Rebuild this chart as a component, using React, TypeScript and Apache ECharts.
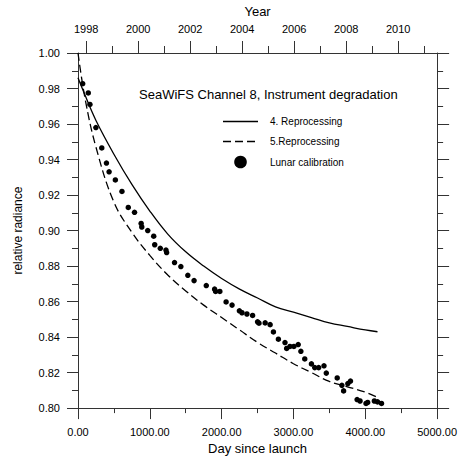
import React, { useEffect, useRef } from "react";
import * as echarts from "echarts";

// Model curves (day since launch -> relative radiance)
const CURVE_DAYS = [0, 100, 250, 500, 750, 1000, 1250, 1500, 1750, 2000, 2250, 2500, 2750, 3000, 3250, 3500, 3750, 4000, 4170];
const REPRO4 = [0.986, 0.976, 0.962, 0.943, 0.926, 0.911, 0.898, 0.888, 0.88, 0.873, 0.867, 0.862, 0.857, 0.854, 0.851, 0.848, 0.846, 0.844, 0.843];
const REPRO5 = [1.0, 0.974, 0.947, 0.916, 0.899, 0.886, 0.875, 0.866, 0.858, 0.851, 0.844, 0.837, 0.831, 0.825, 0.82, 0.815, 0.812, 0.809, 0.806];

// Lunar calibration measurements
const LUNAR_DAYS = [
  65, 143, 166, 249, 331, 396, 433, 520, 612, 700, 787, 879, 888, 971, 1054, 1068, 1146, 1225, 1234, 1344,
  1432, 1529, 1616, 1786, 1902, 1916, 1975, 2062, 2145, 2247, 2283, 2352, 2431, 2500, 2520, 2606, 2675, 2721,
  2790, 2882, 2905, 2951, 3006, 3066, 3103, 3157, 3250, 3296, 3351, 3425, 3457, 3609, 3674, 3698, 3757, 3794,
  3886, 3927, 4010, 4033, 4126, 4171, 4226,
];
const LUNAR_VALUES = [
  0.9827, 0.9775, 0.971, 0.958, 0.9465, 0.938, 0.9331, 0.9285, 0.922, 0.913, 0.9103, 0.904, 0.902, 0.9, 0.8968,
  0.892, 0.89, 0.889, 0.8876, 0.882, 0.8797, 0.8748, 0.8718, 0.869, 0.867, 0.8657, 0.8657, 0.8598, 0.858, 0.8548,
  0.8537, 0.853, 0.8522, 0.8486, 0.8478, 0.848, 0.847, 0.8429, 0.8388, 0.8369, 0.8336, 0.8347, 0.8347, 0.8358,
  0.832, 0.8277, 0.8249, 0.8228, 0.8228, 0.8238, 0.8197, 0.817, 0.8128, 0.8097, 0.8138, 0.8152, 0.8048, 0.804,
  0.8026, 0.8032, 0.804, 0.8035, 0.8026,
];

// Top (calendar year) axis
const YEAR_START = 1997.683;
const YEAR_END = 2011.5;
const YEAR_MAJOR = [1998, 2000, 2002, 2004, 2006, 2008, 2010];
const YEAR_MINOR = [1999, 2001, 2003, 2005, 2007, 2009, 2011];

const TITLE = "SeaWiFS Channel 8, Instrument degradation";
const NAME_4 = "4. Reprocessing";
const NAME_5 = "5.Reprocessing";
const NAME_L = "Lunar calibration";

export default function App() {
  const ref = useRef<HTMLDivElement>(null);

  useEffect(() => {
    if (!ref.current) return;
    const chart = echarts.init(ref.current, null, { renderer: "svg" });
    const font = "'Liberation Sans', Arial, Helvetica, sans-serif";
    const axisColor = "#333";
    const lineStyle = { color: axisColor, width: 1 };
    const dash = [8, 4];

    const legendX1 = 223;
    const legendX2 = 258;
    const legendTextX = 270;
    const legendRows = [121.5, 141.5, 162];
    const legendText = (text: string, y: number) => ({
      type: "text",
      x: legendTextX,
      y,
      silent: true,
      style: { text, fill: "#000", font: `10px ${font}`, verticalAlign: "middle", align: "left" },
    });

    const option: any = {
      animation: false,
      backgroundColor: "#fff",
      textStyle: { fontFamily: font, color: "#000" },
      title: {
        text: TITLE,
        left: 139,
        top: 86,
        padding: 0,
        textStyle: { fontFamily: font, fontSize: 13, fontWeight: "normal", color: "#000", lineHeight: 16 },
      },
      graphic: [
        {
          type: "line",
          silent: true,
          shape: { x1: legendX1, y1: legendRows[0], x2: legendX2, y2: legendRows[0] },
          style: { stroke: "#000", lineWidth: 1.3 },
        },
        legendText(NAME_4, legendRows[0]),
        {
          type: "line",
          silent: true,
          shape: { x1: legendX1, y1: legendRows[1], x2: legendX2, y2: legendRows[1] },
          style: { stroke: "#000", lineWidth: 1.3, lineDash: dash },
        },
        legendText(NAME_5, legendRows[1]),
        {
          type: "circle",
          silent: true,
          shape: { cx: (legendX1 + legendX2) / 2, cy: legendRows[2], r: 6.3 },
          style: { fill: "#000" },
        },
        legendText(NAME_L, legendRows[2]),
      ],
      grid: { left: 78, right: 21, top: 53, bottom: 46, containLabel: false },
      xAxis: [
        {
          type: "value",
          position: "bottom",
          min: 0,
          max: 5000,
          interval: 1000,
          name: "Day since launch",
          nameLocation: "middle",
          nameGap: 31,
          nameTextStyle: { fontFamily: font, fontSize: 13, color: "#000" },
          axisLine: { show: true, onZero: false, lineStyle },
          axisTick: { show: true, inside: false, length: 11, lineStyle },
          minorTick: { show: true, splitNumber: 2, length: 5, lineStyle },
          axisLabel: {
            margin: 18,
            fontFamily: font,
            fontSize: 11,
            color: "#000",
            formatter: (v: number) => v.toFixed(2),
          },
          splitLine: { show: false },
        },
        {
          type: "value",
          position: "top",
          min: YEAR_START,
          max: YEAR_END,
          name: "Year",
          nameLocation: "middle",
          nameGap: 32,
          nameTextStyle: { fontFamily: font, fontSize: 13, color: "#000" },
          axisLine: { show: true, onZero: false, lineStyle },
          axisTick: { show: true, inside: false, length: 12, customValues: YEAR_MAJOR, lineStyle },
          axisLabel: {
            margin: 19,
            fontFamily: font,
            fontSize: 11,
            color: "#000",
            customValues: YEAR_MAJOR,
            formatter: (v: number) => String(Math.round(v)),
          },
          splitLine: { show: false },
        },
        {
          type: "value",
          position: "top",
          min: YEAR_START,
          max: YEAR_END,
          axisLine: { show: false },
          axisTick: { show: true, inside: false, length: 7, customValues: YEAR_MINOR, lineStyle },
          axisLabel: { show: false },
          splitLine: { show: false },
        },
      ],
      yAxis: [
        {
          type: "value",
          position: "left",
          min: 0.8,
          max: 1.0,
          interval: 0.02,
          name: "relative radiance",
          nameLocation: "middle",
          nameGap: 54,
          nameTextStyle: { fontFamily: font, fontSize: 12, color: "#000" },
          axisLine: { show: true, onZero: false, lineStyle },
          axisTick: { show: true, inside: false, length: 11, lineStyle },
          minorTick: { show: true, splitNumber: 2, length: 6, lineStyle },
          axisLabel: {
            margin: 18,
            fontFamily: font,
            fontSize: 11,
            color: "#000",
            formatter: (v: number) => v.toFixed(2),
          },
          splitLine: { show: false },
        },
        {
          type: "value",
          position: "right",
          min: 0.8,
          max: 1.0,
          interval: 0.02,
          axisLine: { show: true, onZero: false, lineStyle },
          axisTick: { show: true, inside: false, length: 12, lineStyle },
          minorTick: { show: true, splitNumber: 2, length: 6, lineStyle },
          axisLabel: { show: false },
          splitLine: { show: false },
        },
      ],
      series: [
        {
          name: NAME_4,
          type: "line",
          xAxisIndex: 0,
          yAxisIndex: 0,
          symbol: "none",
          smooth: 0.4,
          lineStyle: { color: "#000", width: 1.3, type: "solid" },
          itemStyle: { color: "#000" },
          data: CURVE_DAYS.map((d, i) => [d, REPRO4[i]]),
        },
        {
          name: NAME_5,
          type: "line",
          xAxisIndex: 0,
          yAxisIndex: 0,
          symbol: "none",
          smooth: 0.4,
          lineStyle: { color: "#000", width: 1.3, type: dash },
          itemStyle: { color: "#000" },
          data: CURVE_DAYS.map((d, i) => [d, REPRO5[i]]),
        },
        {
          name: NAME_L,
          type: "scatter",
          xAxisIndex: 0,
          yAxisIndex: 0,
          symbol: "circle",
          symbolSize: 5.5,
          itemStyle: { color: "#000", opacity: 1 },
          data: LUNAR_DAYS.map((d, i) => [d, LUNAR_VALUES[i]]),
        },
      ],
    };

    chart.setOption(option);
    return () => chart.dispose();
  }, []);

  return (
    <div
      ref={ref}
      style={{ position: "fixed", left: 0, top: 0, width: 460, height: 460, background: "#fff" }}
    />
  );
}
